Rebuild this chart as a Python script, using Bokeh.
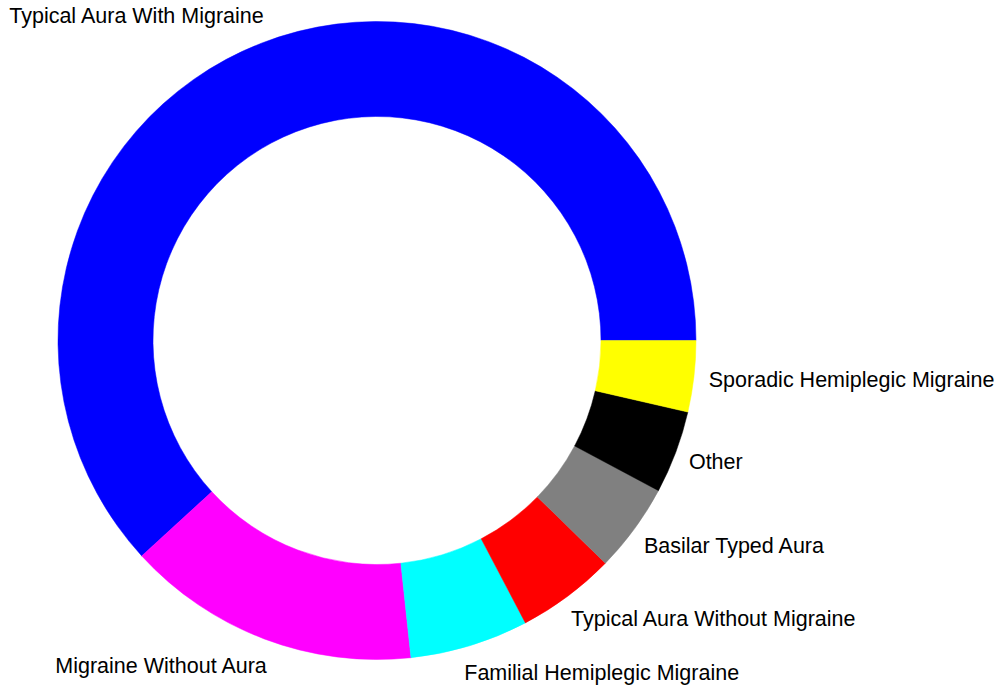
import numpy as np
from bokeh.plotting import figure
from bokeh.models import ColumnDataSource, Range1d
from bokeh.embed import file_html
from bokeh.resources import INLINE
from bokeh.core.properties import value

categories = ["Typical Aura With Migraine", "Migraine Without Aura",
              "Familial Hemiplegic Migraine", "Typical Aura Without Migraine",
              "Basilar Typed Aura", "Other", "Sporadic Hemiplegic Migraine"]
values = [61.8, 14.9, 6.0, 5.0, 4.5, 4.2, 3.6]
colors = ["#0000ff", "#ff00ff", "#00ffff", "#ff0000", "#808080", "#000000", "#ffff00"]

W, H = 1000, 685
cx, cy = 376.5, H - 340.0
R_out, R_in = 319.0, 224.0
R_lab = 348.0
x_pull = 14.0

vals = np.array(values, dtype=float)
frac = vals / vals.sum()
ends = np.cumsum(frac) * 2 * np.pi
starts = ends - frac * 2 * np.pi
mids = (starts + ends) / 2
side = np.sign(np.cos(mids))
lx = cx + R_lab * np.cos(mids) - side * x_pull
ly = cy + R_lab * np.sin(mids)
align = ["left" if s >= 0 else "right" for s in side]

src = ColumnDataSource(dict(cat=categories, val=values, color=colors,
                            start=starts, end=ends, lx=lx, ly=ly, align=align))

p = figure(width=W, height=H, x_range=Range1d(0, W), y_range=Range1d(0, H),
           output_backend="svg", toolbar_location=None, min_border=0)
p.axis.visible = False
p.grid.visible = False
p.outline_line_color = None
p.background_fill_color = "white"

p.annular_wedge(x=cx, y=cy, inner_radius=R_in, outer_radius=R_out,
                start_angle="start", end_angle="end", direction="anticlock",
                fill_color="color", line_color="color", line_width=0.5, source=src)

p.text(x="lx", y="ly", text="cat", text_align="align", text_baseline="middle",
       text_font=value("Liberation Sans"), text_font_size="21.5px",
       text_color="black", source=src)

open("out.html", "w").write(file_html(p, INLINE))
